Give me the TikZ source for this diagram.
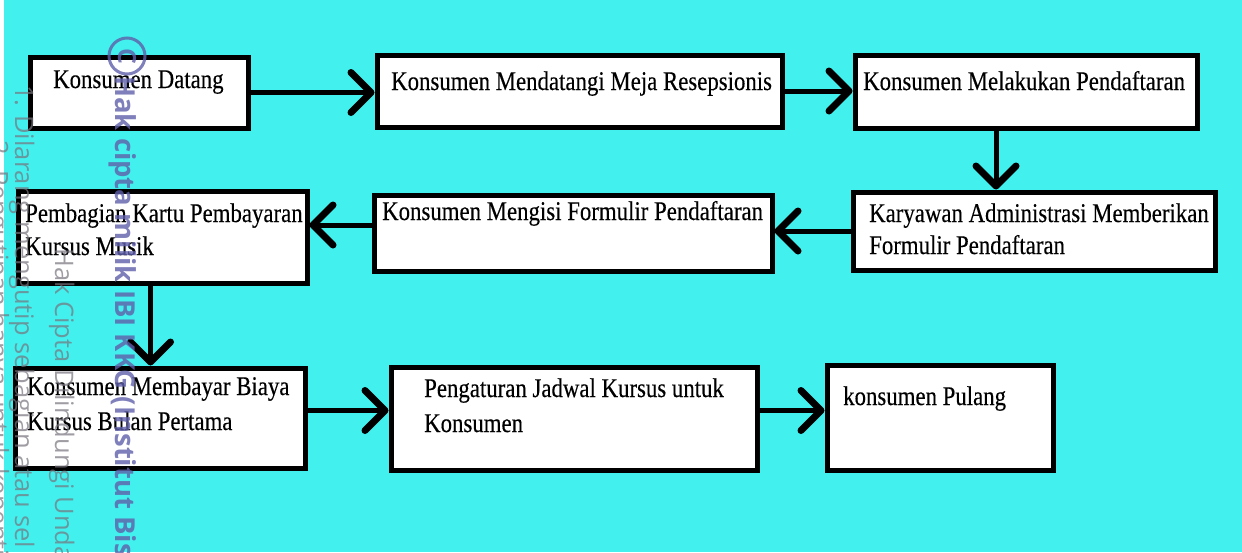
\documentclass[tikz,border=0pt]{standalone}
\usepackage{fontspec}
\setmainfont{Liberation Serif}
\newfontfamily\boxfont[FakeStretch=0.845,FakeBold=0.3]{Liberation Serif}
\newfontfamily\wmfont{Open Sans}
\usetikzlibrary{arrows.meta}
\definecolor{bgcyan}{RGB}{66,240,238}
\definecolor{wmblue}{RGB}{95,95,170}
\definecolor{wmgray}{RGB}{120,115,125}
\newcommand\flowbox[5]{\node[stepbox, anchor=north west, minimum width=#4pt, minimum height=#5pt] (#1) at (#2,#3) {};}
\begin{document}
\begin{tikzpicture}[x=1pt,y=-1pt,
  stepbox/.style={draw=black, fill=white, line width=5pt, inner sep=0pt},
  lbl/.style={anchor=base west, inner sep=0pt, font=\boxfont\fontsize{27}{33}\selectfont},
  arr/.style={line width=5pt, -{Straight Barb[length=20pt,width=40pt,line width=7pt,round]}},
  wmbold/.style={rotate=-90, anchor=base west, inner sep=0pt, text=wmblue, opacity=0.8, font=\wmfont\bfseries\fontsize{27.5}{30}\selectfont},
  wmthin/.style={rotate=-90, anchor=base west, inner sep=0pt, text=wmgray, opacity=0.7, font=\wmfont\fontsize{25.5}{28}\selectfont},
]
\useasboundingbox (0,0) rectangle (1242,552);
\clip (0,0) rectangle (1242,552);
\fill[bgcyan] (0,0) rectangle (1242,552);
\fill[white] (0,0) rectangle (3.5,552);

% boxes
\flowbox{b1}{27.5}{54.5}{218}{71}
\flowbox{b2}{374.5}{52.5}{405}{72}
\flowbox{b3}{852.5}{52.5}{342}{73}
\flowbox{b4}{850.5}{189.5}{362}{78}
\flowbox{b5}{371.5}{192.5}{398}{76}
\flowbox{b6}{15.5}{188.5}{289}{92}
\flowbox{b7}{12.5}{365.5}{290}{100}
\flowbox{b8}{388.5}{364.5}{366}{103}
\flowbox{b9}{824.5}{362.5}{226}{105}

% texts
\node[lbl] (t1) at (53,88) {Konsumen Datang};
\node[lbl] (t2) at (391,90) {Konsumen Mendatangi Meja Resepsionis};
\node[lbl] (t3) at (863,90) {Konsumen Melakukan Pendaftaran};
\node[lbl] (t4a) at (869,222) {Karyawan Administrasi Memberikan};
\node[lbl] (t4b) at (869,254) {Formulir Pendaftaran};
\node[lbl] (t5) at (382,220) {Konsumen Mengisi Formulir Pendaftaran};
\node[lbl] (t6a) at (25,222) {Pembagian Kartu Pembayaran};
\node[lbl] (t6b) at (25,255) {Kursus Musik};
\node[lbl] (t7a) at (27,395) {Konsumen Membayar Biaya};
\node[lbl] (t7b) at (27,430) {Kursus Bulan Pertama};
\node[lbl] (t8a) at (424,397) {Pengaturan Jadwal Kursus untuk};
\node[lbl] (t8b) at (424,432) {Konsumen};
\node[lbl] (t9) at (843,405) {konsumen Pulang};

% connectors
\draw[arr] (b1.east) -- (b1.east -| b2.west);
\draw[arr] (b2.east) -- (b2.east -| b3.west);
\coordinate (c34) at ([xshift=-30pt]b3.south);
\draw[arr] (c34) -- (c34 |- b4.north);
\draw[arr] (b4.west) -- (b4.west -| b5.east);
\coordinate (c56) at ([yshift=8pt]b5.west);
\draw[arr] (c56) -- (c56 -| b6.east);
\coordinate (c67) at ([xshift=-12pt]b6.south);
\draw[arr] (c67) -- (c67 |- b7.north);
\coordinate (c78) at ([yshift=7.5pt]b7.east);
\draw[arr] (c78) -- (c78 -| b8.west);
\coordinate (c89) at ([yshift=8pt]b8.east);
\draw[arr] (c89) -- (c89 -| b9.west);

% watermark
\draw[wmblue, opacity=0.8, line width=3pt] (127,56) circle[radius=18];
\node[rotate=-90, inner sep=0pt, text=wmblue, opacity=0.8, font=\wmfont\bfseries\fontsize{25}{28}\selectfont] (wmc) at (127,56) {C};
\node[wmbold] (wm1) at (115,76) {Hak cipta milik IBI KKG (Institut Bis};
\node[wmthin] (wm2) at (15,85) {1. Dilarang mengutip sebagian atau sel};
\node[wmthin] (wm3) at (55,248) {Hak Cipta Dilindungi Unda};
\node[wmthin] (wm4) at (-10,140) {2. Pengutipan hanya untuk kepentin};
\end{tikzpicture}
\end{document}
